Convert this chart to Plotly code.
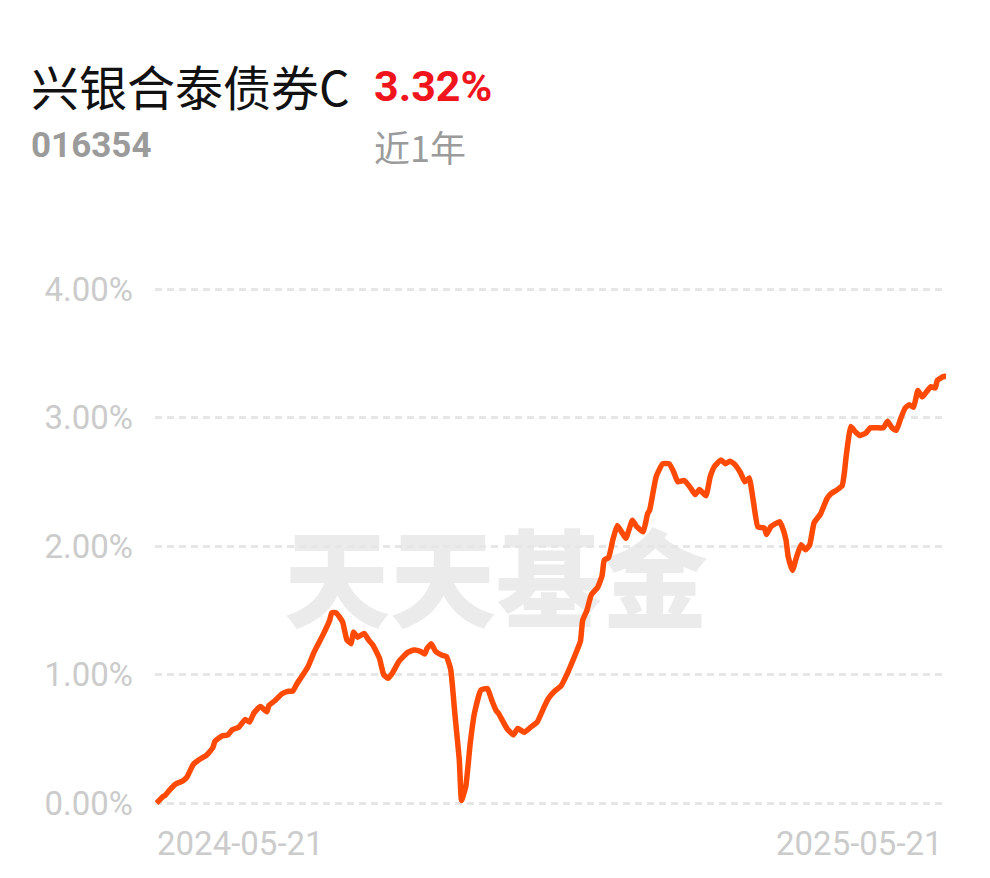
import pandas as pd
import plotly.graph_objects as go

fund_name = "兴银合泰债券C"
fund_code = "016354"
period_label = "近1年"
period_return = "3.32%"
start_date = "2024-05-21"
end_date = "2025-05-21"

# days since start date, cumulative return (%)
day_offsets = [0, 3, 4, 6, 9, 12, 14, 17, 20, 23, 26, 27, 30, 33, 35, 38, 41, 43, 45, 48,
               51, 52, 55, 58, 61, 63, 65, 67, 70, 73, 77, 80, 81, 83, 86, 88, 90, 91, 93, 96,
               98, 100, 103, 105, 107, 109, 112, 116, 119, 122, 124, 125, 127, 129, 132, 134, 136, 138, 140, 141,
               143, 145, 147, 150, 153, 155, 157, 158, 162, 165, 167, 170, 173, 176, 179, 181, 184, 187, 190, 193,
               196, 197, 199, 201, 204, 206, 207, 209, 211, 213, 215, 217, 220, 222, 225, 227, 228, 231, 234, 237,
               239, 241, 244, 247, 249, 251, 254, 256, 258, 261, 263, 265, 267, 270, 272, 274, 276, 278, 281, 282,
               284, 288, 289, 291, 292, 294, 296, 298, 300, 302, 304, 307, 310, 312, 314, 317, 318, 319, 321, 323,
               325, 328, 330, 333, 336, 338, 340, 342, 344, 346, 348, 350, 352, 354, 356, 358, 360, 361, 364, 365]
returns_pct = [0.00, 0.05, 0.06, 0.10, 0.15, 0.17, 0.20, 0.30, 0.34, 0.37, 0.43, 0.48, 0.52, 0.53, 0.57, 0.59, 0.65, 0.63, 0.70, 0.75,
               0.71, 0.76, 0.80, 0.85, 0.87, 0.87, 0.93, 0.98, 1.06, 1.18, 1.31, 1.42, 1.48, 1.48, 1.41, 1.27, 1.24, 1.33, 1.29, 1.32,
               1.27, 1.23, 1.13, 1.00, 0.97, 1.01, 1.10, 1.17, 1.19, 1.18, 1.16, 1.20, 1.24, 1.18, 1.15, 1.14, 1.04, 0.68, 0.33, 0.02,
               0.13, 0.46, 0.70, 0.88, 0.89, 0.80, 0.72, 0.70, 0.58, 0.53, 0.58, 0.55, 0.59, 0.63, 0.74, 0.81, 0.87, 0.91, 1.01, 1.13,
               1.26, 1.42, 1.50, 1.62, 1.68, 1.77, 1.89, 1.91, 2.05, 2.16, 2.11, 2.06, 2.20, 2.15, 2.11, 2.25, 2.28, 2.54, 2.64, 2.64,
               2.58, 2.50, 2.51, 2.45, 2.40, 2.44, 2.39, 2.54, 2.62, 2.67, 2.64, 2.66, 2.64, 2.57, 2.50, 2.53, 2.34, 2.15, 2.14, 2.09,
               2.15, 2.19, 2.16, 2.05, 1.92, 1.81, 1.92, 2.01, 1.97, 2.01, 2.18, 2.25, 2.37, 2.41, 2.43, 2.47, 2.57, 2.72, 2.93, 2.89,
               2.86, 2.88, 2.92, 2.92, 2.92, 2.97, 2.92, 2.90, 2.99, 3.07, 3.10, 3.08, 3.21, 3.16, 3.20, 3.24, 3.23, 3.29, 3.32, 3.32]

y_ticks = [0, 1, 2, 3, 4]
y_tick_labels = ["0.00%", "1.00%", "2.00%", "3.00%", "4.00%"]

dates = pd.Timestamp(start_date) + pd.to_timedelta(day_offsets, unit="D")

fig = go.Figure()
fig.add_trace(go.Scatter(
    x=dates, y=returns_pct, mode="lines",
    line=dict(color="#ff4a05", width=5.5, shape="spline", smoothing=0.4),
    hoverinfo="skip", showlegend=False,
))

OFF = 8  # page body margin
W, H = 982, 870
L, R, T, B = 147, 43, 275, 69
pw, ph = W - L - R, H - T - B

def px(x):
    return (x - OFF - L) / pw

def py(y):
    return (H - B - (y - OFF)) / ph

tick_font = dict(family="Roboto, Noto Sans", size=33, color="#cbcbcb")

fig.update_layout(
    width=W, height=H,
    margin=dict(l=L, r=R, t=T, b=B, pad=0),
    paper_bgcolor="white", plot_bgcolor="white",
    xaxis=dict(
        type="date",
        range=[pd.Timestamp(start_date) - pd.Timedelta(hours=17),
               pd.Timestamp(end_date) + pd.Timedelta(hours=11)],
        showgrid=False, zeroline=False, showline=False,
        showticklabels=False, ticks="", fixedrange=True,
    ),
    yaxis=dict(
        range=[-0.0467, 4.0467],
        tickvals=y_ticks, ticktext=y_tick_labels,
        tickfont=tick_font,
        showgrid=True, gridcolor="#e6e6e6", gridwidth=2.5, griddash="7px,5px",
        zeroline=False, showline=False, ticks="",
        ticklabelstandoff=21, fixedrange=True,
    ),
    shapes=[dict(
        type="rect", xref="paper", yref="paper",
        x0=px(287), x1=px(705), y0=py(642), y1=py(538),
        line=dict(width=0), fillcolor="rgba(0,0,0,0)", layer="below",
        label=dict(text="天天基金", textposition="middle center",
                   font=dict(family="Noto Sans CJK SC", size=106, color="#ebebeb", weight=900)),
    )],
    annotations=[
        dict(text=fund_name, xref="paper", yref="paper", x=px(29), y=py(85),
             xanchor="left", yanchor="middle", showarrow=False,
             font=dict(family="Noto Sans CJK SC", size=48, color="#111111")),
        dict(text=f"<b>{period_return}</b>", xref="paper", yref="paper", x=px(372), y=py(86),
             xanchor="left", yanchor="middle", showarrow=False,
             font=dict(family="Roboto", size=43, color="#f0141c")),
        dict(text=f"<b>{fund_code}</b>", xref="paper", yref="paper", x=px(29), y=py(145),
             xanchor="left", yanchor="middle", showarrow=False,
             font=dict(family="Roboto", size=35, color="#9b9b9b")),
        dict(text=period_label, xref="paper", yref="paper", x=px(372), y=py(146),
             xanchor="left", yanchor="middle", showarrow=False,
             font=dict(family="Noto Sans CJK SC", size=36, color="#9b9b9b")),
        dict(text=start_date, xref="paper", yref="paper", x=px(155), y=py(843),
             xanchor="left", yanchor="middle", showarrow=False, font=tick_font),
        dict(text=end_date, xref="paper", yref="paper", x=px(945), y=py(843),
             xanchor="right", yanchor="middle", showarrow=False, font=tick_font),
    ],
)

fig.write_html("out.html")
